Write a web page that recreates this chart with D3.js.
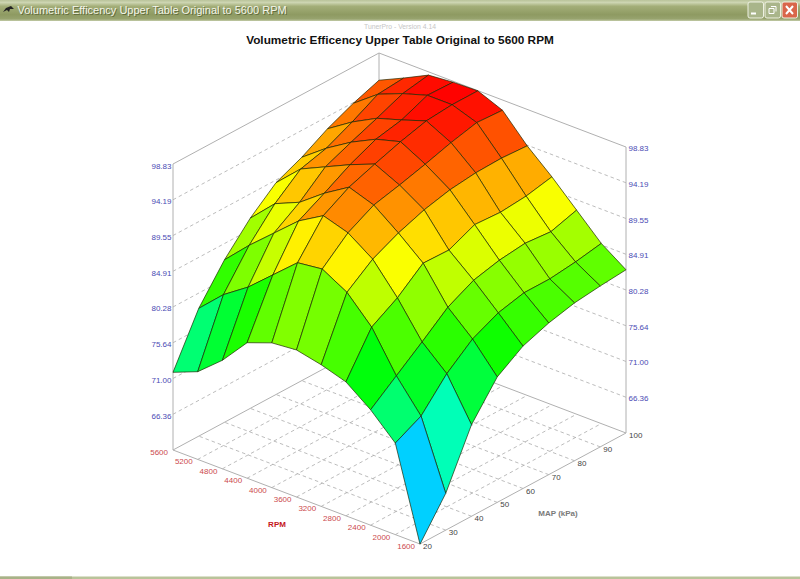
<!DOCTYPE html>
<html>
<head>
<meta charset="utf-8">
<script src="https://cdnjs.cloudflare.com/ajax/libs/d3/7.8.5/d3.min.js"></script>
<style>
html,body{margin:0;padding:0;background:#fff;overflow:hidden}
svg{display:block}
text{font-family:"Liberation Sans",Arial,sans-serif}
</style>
</head>
<body>
<svg id="c" width="800" height="579"></svg>
<script>
const windowTitle = "Volumetric Efficency Upper Table Original to 5600 RPM";
const chartTitle = "Volumetric Efficency Upper Table Original to 5600 RPM";
const versionText = "TunerPro - Version 4.14";
const rpmTicks = [1600,2000,2400,2800,3200,3600,4000,4400,4800,5200,5600];
const mapTicks = [20,30,40,50,60,70,80,90,100];
const zTicks = [61.72,66.36,71.00,75.64,80.28,84.91,89.55,94.19,98.83];

// Volumetric efficiency per RPM (1600 → 5600), one list per MAP column
const ve20  = [61.7,73.6,76.7,79.1,80.1,80.8,80.5,79.3,75.8,73.1,71.8];
const ve30  = [66.5,75.3,79.3,84.4,87.7,89.5,89.1,86.3,83.5,81.3,78.3];
const ve40  = [73.6,79.0,81.9,86.4,90.2,92.4,93.4,91.5,88.7,85.9,82.8];
const ve50  = [78.0,81.7,84.6,89.1,91.8,94.2,95.3,93.3,90.9,89.5,86.4];
const ve60  = [80.2,83.3,86.3,89.0,93.0,95.0,96.5,95.2,93.7,92.2,89.2];
const ve70  = [81.4,84.1,87.1,90.5,93.8,95.9,97.6,96.7,95.1,93.1,90.7];
const ve80  = [82.2,84.1,87.5,90.3,94.2,96.9,98.5,97.4,96.4,94.7,92.6];
const ve90  = [82.6,84.5,87.2,90.6,94.3,97.7,98.8,98.8,97.8,96.5,94.1];
const ve100 = [82.9,85.1,88.2,91.3,94.1,97.5,98.8,98.7,98.4,96.8,95.3];
const veRows = [ve20,ve30,ve40,ve50,ve60,ve70,ve80,ve90,ve100];

const svg = d3.select("#c");
const defs = svg.append("defs");

// Projection built from linear scales: each data axis contributes a screen offset
const origin = {x:420,y:544};
const rpmX = d3.scaleLinear().domain([1600,5600]).range([0,-247]);
const rpmY = d3.scaleLinear().domain([1600,5600]).range([0,-94]);
const mapX = d3.scaleLinear().domain([20,100]).range([0,206]);
const mapY = d3.scaleLinear().domain([20,100]).range([0,-111]);
const zY   = d3.scaleLinear().domain([61.72,98.83]).range([0,-286]);
const hue  = d3.scaleLinear().domain([61.72,98.83]).range([240,0]);
const px = (r,m)=>origin.x+rpmX(r)+mapX(m);
const py = (r,m,z)=>origin.y+rpmY(r)+mapY(m)+zY(z);

const rMin=rpmTicks[0], rMax=rpmTicks[rpmTicks.length-1];
const mMin=mapTicks[0], mMax=mapTicks[mapTicks.length-1];
const zMin=zTicks[0], zMax=zTicks[zTicks.length-1];

// Title bar
const g1 = defs.append("linearGradient").attr("id","bar").attr("x1",0).attr("y1",0).attr("x2",0).attr("y2",1);
[[0,"#b9c39a"],[0.12,"#cdd5b2"],[0.3,"#a3ae78"],[0.7,"#8e9a62"],[0.9,"#97a36e"],[1,"#c3cba8"]]
  .forEach(d=>g1.append("stop").attr("offset",d[0]).attr("stop-color",d[1]));
svg.append("rect").attr("width",800).attr("height",21).attr("fill","url(#bar)");
svg.append("path").attr("d","M3 12 L6 8 L11 6 L14 9 L10 9 L9 12 L7 10 Z").attr("fill","#222");
svg.append("text").attr("x",18.5).attr("y",15).attr("font-size",11).attr("fill","#3f4a22").attr("opacity",.6).text(windowTitle);
svg.append("text").attr("x",17.5).attr("y",14).attr("font-size",11).attr("fill","#f4f6ea").text(windowTitle);
[[748,"#a9b58a"],[765,"#a9b58a"],[782,"#d9664a"]].forEach(b=>{
  svg.append("rect").attr("x",b[0]).attr("y",2).attr("width",15.5).attr("height",16).attr("rx",2)
    .attr("fill",b[1]).attr("stroke","#eef1e2").attr("stroke-width",1);
});
svg.append("path").attr("d","M751 13.5h5").attr("stroke","#fff").attr("stroke-width",2);
svg.append("path").attr("d","M769 8.5h5v5h-5z M771 6.5h5v5").attr("fill","none").attr("stroke","#fff").attr("stroke-width",1);
svg.append("path").attr("d","M786 6l7 8M793 6l-7 8").attr("stroke","#fff").attr("stroke-width",2);
// Bottom edge
svg.append("rect").attr("y",576.5).attr("width",800).attr("height",2.5).attr("fill","#b9c39a");
svg.append("rect").attr("y",576.5).attr("width",72).attr("height",2.5).attr("fill","#a8b288");

svg.append("text").attr("x",400).attr("y",28.5).attr("text-anchor","middle").attr("font-size",6.8).attr("fill","#c6c6c6").text(versionText);
svg.append("text").attr("x",400).attr("y",43.5).attr("text-anchor","middle").attr("font-size",11.8).attr("font-weight","bold").attr("fill","#111").text(chartTitle);

const solid = "#b0b0b0", dashed = "#ababab";
const line = (p1,p2,dash,col)=>svg.append("line")
  .attr("x1",p1[0]).attr("y1",p1[1]).attr("x2",p2[0]).attr("y2",p2[1])
  .attr("stroke",col||solid).attr("stroke-width",dash?0.8:1).attr("stroke-dasharray",dash?"3.5 3":null);
const P = (r,m,z)=>[px(r,m),py(r,m,z)];

// Floor grid
rpmTicks.slice(1,-1).forEach(r=>line(P(r,mMin,zMin),P(r,mMax,zMin),true,dashed));
mapTicks.slice(1,-1).forEach(m=>line(P(rMin,m,zMin),P(rMax,m,zMin),true,dashed));
// Wall grids
zTicks.slice(1,-1).forEach(z=>{
  line(P(rMax,mMin,z),P(rMax,mMax,z),true,dashed);
  line(P(rMin,mMax,z),P(rMax,mMax,z),true,dashed);
});
// Frame
line(P(rMin,mMin,zMin),P(rMax,mMin,zMin));
line(P(rMin,mMin,zMin),P(rMin,mMax,zMin));
line(P(rMax,mMin,zMin),P(rMax,mMax,zMin));
line(P(rMin,mMax,zMin),P(rMax,mMax,zMin));
line(P(rMax,mMin,zMin),P(rMax,mMin,zMax));
line(P(rMin,mMax,zMin),P(rMin,mMax,zMax));
line(P(rMax,mMax,zMin),P(rMax,mMax,zMax));
line(P(rMax,mMin,zMax),P(rMax,mMax,zMax));
line(P(rMin,mMax,zMax),P(rMax,mMax,zMax));

// Surface: painter's order, far cells first
const cells = [];
for (let j=0;j<mapTicks.length-1;j++) for (let i=0;i<rpmTicks.length-1;i++) {
  const c=[[i,j],[i+1,j],[i+1,j+1],[i,j+1]];
  cells.push({i,j,pts:c.map(([a,b])=>P(rpmTicks[a],mapTicks[b],veRows[b][a])),
    z:d3.mean(c,([a,b])=>veRows[b][a])});
}
cells.sort((a,b)=>(b.i+b.j)-(a.i+a.j));
svg.append("g").selectAll("path").data(cells).join("path")
  .attr("d",d=>"M"+d.pts.map(p=>p.join(",")).join("L")+"Z")
  .attr("fill",d=>d3.hsl(hue(d.z),1,0.5).toString())
  .attr("stroke","#1c2600").attr("stroke-opacity",.72).attr("stroke-width",0.95).attr("stroke-linejoin","round");

// Axis labels
const zFmt = d3.format(".2f");
zTicks.slice(1).forEach(z=>{
  svg.append("text").attr("x",px(rMax,mMin)-1.5).attr("y",py(rMax,mMin,z)+4.5).attr("text-anchor","end")
    .attr("font-size",8).attr("fill","#4a4ab4").text(zFmt(z));
  svg.append("text").attr("x",px(rMin,mMax)+2.5).attr("y",py(rMin,mMax,z)+4)
    .attr("font-size",8).attr("fill","#4a4ab4").text(zFmt(z));
});
rpmTicks.forEach(r=>svg.append("text").attr("x",px(r,mMin)-5).attr("y",py(r,mMin,zMin)+5)
  .attr("text-anchor","end").attr("font-size",8).attr("fill","#cc4a4e").text(r));
mapTicks.forEach(m=>svg.append("text").attr("x",px(rMin,m)+3).attr("y",py(rMin,m,zMin)+5)
  .attr("font-size",8).attr("fill","#444").text(m));
svg.append("text").attr("x",277).attr("y",527).attr("text-anchor","middle").attr("font-size",8)
  .attr("font-weight","bold").attr("fill","#c4161c").text("RPM");
svg.append("text").attr("x",558).attr("y",516).attr("text-anchor","middle").attr("font-size",8)
  .attr("font-weight","bold").attr("fill","#7a7a7a").text("MAP (kPa)");
</script>
</body>
</html>
